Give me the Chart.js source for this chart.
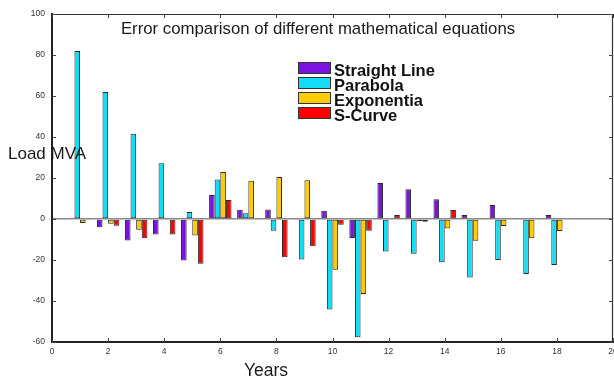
<!DOCTYPE html>
<html>
<head>
<meta charset="utf-8">
<script src="https://cdn.jsdelivr.net/npm/chart.js@4.4.0/dist/chart.umd.min.js"></script>
<style>
html,body{margin:0;padding:0;background:#fff}
#wrap{width:614px;height:378px;position:relative}
</style>
</head>
<body>
<div id="wrap"><canvas id="myChart"></canvas></div>
<script>
// data
var years = [1, 2, 3, 4, 5, 6, 7, 8, 9, 10, 11, 12, 13, 14, 15, 16, 17, 18];
var straightLine = [0.3, -4, -10.5, -7.6, -20.3, 11.7, 4.5, 4.6, 0.3, 4, -9.3, 17.6, 14.5, 9.6, 2, 6.8, 0.3, 2];
var parabola = [82, 62, 41.6, 27.2, 3.4, 19.3, 2.8, -5.7, -19.8, -44.2, -57.7, -15.9, -17, -21.1, -28.5, -20, -26.8, -22.4];
var exponentia = [-2, -2.3, -5.2, 0.6, -8, 22.9, 18.7, 20.5, 18.9, -24.7, -36.6, 0.2, -1, -4.6, -10.6, -3.4, -9.4, -5.9];
var sCurve = [-0.3, -3.3, -9.4, -7.6, -21.8, 9.3, -0.3, -18.7, -13.3, -2.8, -5.7, 2, -1.3, 4.4, 0, 0, 0, 0];
var seriesNames = ['Straight Line', 'Parabola', 'Exponentia', 'S-Curve'];
var seriesColors = ['#7b12df', '#12dcf6', '#ffcc00', '#ff0000'];
var xTicks = [0, 2, 4, 6, 8, 10, 12, 14, 16, 18, 20];
var yTicks = [-60, -40, -20, 0, 20, 40, 60, 80, 100];

var FONT = '"Liberation Sans", Arial, sans-serif';

var allSeries = [straightLine, parabola, exponentia, sCurve];
var datasets = allSeries.map(function(vals, i){
    return {
        label: seriesNames[i],
        data: vals,
        backgroundColor: seriesColors[i],
        borderColor: '#2a2a2a',
        borderWidth: 1,
        borderSkipped: false,
        categoryPercentage: 0.8,
        barPercentage: 1
    };
});

// frame, inward ticks and the texts that sit inside the plot
var decorations = {
    id: 'decorations',
    afterDraw: function(chart){
        var ctx = chart.ctx;
        var a = chart.chartArea;
        var xs = chart.scales.x, ys = chart.scales.y;
        ctx.save();
        ctx.strokeStyle = '#333';
        ctx.lineWidth = 1.2;
        ctx.beginPath();
        ctx.moveTo(a.left, a.top + 0.5); ctx.lineTo(a.right - 0.5, a.top + 0.5);
        ctx.lineTo(a.right - 0.5, a.bottom);
        ctx.stroke();
        ctx.strokeStyle = '#444';
        ctx.lineWidth = 1;
        ctx.beginPath();
        yTicks.forEach(function(v){
            var py = Math.round(ys.getPixelForValue(v)) + 0.5;
            ctx.moveTo(a.left, py); ctx.lineTo(a.left + 4, py);
            ctx.moveTo(a.right, py); ctx.lineTo(a.right - 4, py);
        });
        xTicks.forEach(function(v){
            var px = Math.round(xs.getPixelForValue(v)) + 0.5;
            ctx.moveTo(px, a.bottom); ctx.lineTo(px, a.bottom - 4);
            ctx.moveTo(px, a.top); ctx.lineTo(px, a.top + 4);
        });
        ctx.stroke();

        // title
        ctx.fillStyle = '#1a1a1a';
        ctx.font = '16.8px ' + FONT;
        ctx.textAlign = 'center';
        ctx.textBaseline = 'alphabetic';
        ctx.fillText('Error comparison of different mathematical equations', 318, 34);

        // axis titles
        ctx.font = '17px ' + FONT;
        ctx.textAlign = 'left';
        ctx.fillText('Load MVA', 8, 159);
        ctx.font = '17.5px ' + FONT;
        ctx.textAlign = 'center';
        ctx.fillText('Years', 266, 376);

        // legend
        ctx.textAlign = 'left';
        ctx.font = 'bold 16.5px ' + FONT;
        seriesNames.forEach(function(name, i){
            var y = 62 + i * 15;
            ctx.fillStyle = seriesColors[i];
            ctx.fillRect(298, y, 32, 11);
            ctx.strokeStyle = '#333';
            ctx.lineWidth = 1;
            ctx.strokeRect(298.5, y + 0.5, 32, 11);
            ctx.fillStyle = '#111';
            ctx.fillText(name, 334, y + 14);
        });
        ctx.restore();
    }
};

var chart = new Chart(document.getElementById('myChart').getContext('2d'), {
    type: 'bar',
    data: { labels: years, datasets: datasets },
    options: {
        responsive: true,
        maintainAspectRatio: false,
        animation: false,
        layout: { padding: { left: 0, top: 14, right: 1, bottom: 0 } },
        plugins: { legend: { display: false }, title: { display: false }, tooltip: { enabled: false } },
        scales: {
            x: {
                type: 'linear',
                min: 0, max: 20,
                offset: false,
                afterFit: function(s){ s.height = 36; s.paddingLeft = 0; s.paddingRight = 0; },
                afterBuildTicks: function(s){ s.ticks = xTicks.map(function(v){ return { value: v }; }); },
                grid: { display: false, drawTicks: false, offset: false },
                border: { display: true, color: '#222', width: 2 },
                ticks: { padding: 5, color: '#333', font: { family: FONT, size: 8.5 }, maxRotation: 0 }
            },
            y: {
                min: -60, max: 100,
                afterFit: function(s){ s.width = 52; },
                afterBuildTicks: function(s){ s.ticks = yTicks.map(function(v){ return { value: v }; }); },
                grid: {
                    drawTicks: false,
                    color: function(c){ return c.tick && c.tick.value === 0 ? '#8a8a8a' : 'rgba(0,0,0,0)'; },
                    lineWidth: 1.5
                },
                border: { display: true, color: '#222', width: 2 },
                ticks: { padding: 7, color: '#333', font: { family: FONT, size: 8.5 } }
            }
        }
    },
    plugins: [decorations]
});
</script>
</body>
</html>
